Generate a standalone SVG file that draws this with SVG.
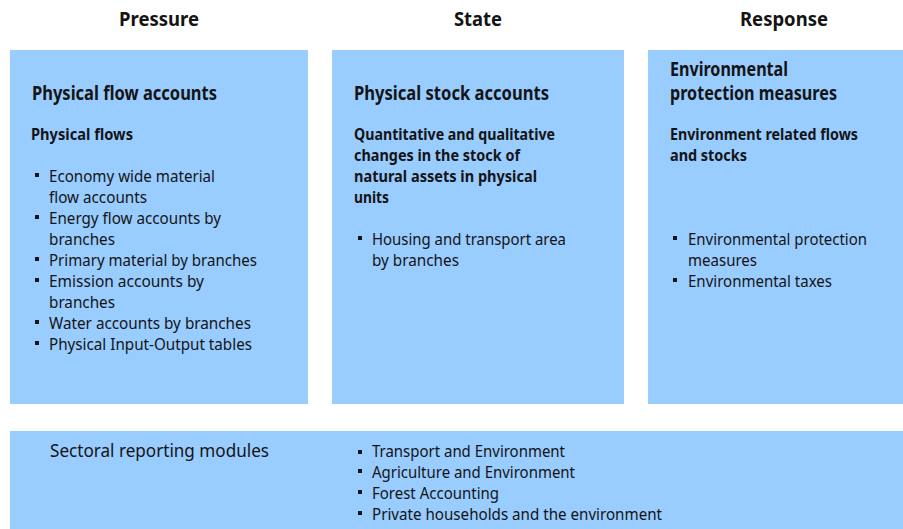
<svg xmlns="http://www.w3.org/2000/svg" width="903" height="529" viewBox="0 0 903 529">
<style>
.box{fill:#99CCFF;}
text{font-family:"Noto Sans","Open Sans","DejaVu Sans",sans-serif;fill:#141414;}
.hdr{font-size:20px;font-weight:bold;text-anchor:middle;}
.ttl{font-size:19px;font-weight:bold;}
.sub{font-size:16.5px;font-weight:bold;}
.bul{font-size:16px;}
.sec{font-size:18px;}
.sq{fill:#141414;}
</style>
<rect width="903" height="529" fill="#ffffff"/>
<g id="headers">
<text class="hdr" x="159" y="26" textLength="80" lengthAdjust="spacingAndGlyphs">Pressure</text>
<text class="hdr" x="478" y="26" textLength="48" lengthAdjust="spacingAndGlyphs">State</text>
<text class="hdr" x="784" y="26" textLength="88" lengthAdjust="spacingAndGlyphs">Response</text>
</g>
<g id="pressure">
<rect class="box" x="10" y="50" width="298" height="354"/>
<text class="ttl" x="32" y="100" textLength="185" lengthAdjust="spacingAndGlyphs">Physical flow accounts</text>
<text class="sub" x="31" y="140" textLength="102" lengthAdjust="spacingAndGlyphs">Physical flows</text>
<rect class="sq" x="35" y="173" width="4" height="4"/>
<text class="bul" x="49" y="182" textLength="166" lengthAdjust="spacingAndGlyphs">Economy wide material</text>
<text class="bul" x="49" y="203" textLength="98" lengthAdjust="spacingAndGlyphs">flow accounts</text>
<rect class="sq" x="35" y="215" width="4" height="4"/>
<text class="bul" x="49" y="224" textLength="172" lengthAdjust="spacingAndGlyphs">Energy flow accounts by</text>
<text class="bul" x="49" y="245" textLength="66" lengthAdjust="spacingAndGlyphs">branches</text>
<rect class="sq" x="35" y="257" width="4" height="4"/>
<text class="bul" x="49" y="266" textLength="208" lengthAdjust="spacingAndGlyphs">Primary material by branches</text>
<rect class="sq" x="35" y="278" width="4" height="4"/>
<text class="bul" x="49" y="287" textLength="155" lengthAdjust="spacingAndGlyphs">Emission accounts by</text>
<text class="bul" x="49" y="308" textLength="66" lengthAdjust="spacingAndGlyphs">branches</text>
<rect class="sq" x="35" y="320" width="4" height="4"/>
<text class="bul" x="49" y="329" textLength="202" lengthAdjust="spacingAndGlyphs">Water accounts by branches</text>
<rect class="sq" x="35" y="341" width="4" height="4"/>
<text class="bul" x="49" y="350" textLength="203" lengthAdjust="spacingAndGlyphs">Physical Input-Output tables</text>
</g>
<g id="state">
<rect class="box" x="332" y="50" width="292" height="354"/>
<text class="ttl" x="354" y="100" textLength="195" lengthAdjust="spacingAndGlyphs">Physical stock accounts</text>
<text class="sub" x="354" y="140" textLength="201" lengthAdjust="spacingAndGlyphs">Quantitative and qualitative</text>
<text class="sub" x="354" y="161" textLength="166" lengthAdjust="spacingAndGlyphs">changes in the stock of</text>
<text class="sub" x="354" y="182" textLength="183" lengthAdjust="spacingAndGlyphs">natural assets in physical</text>
<text class="sub" x="354" y="203" textLength="35" lengthAdjust="spacingAndGlyphs">units</text>
<rect class="sq" x="358" y="236" width="4" height="4"/>
<text class="bul" x="372" y="245" textLength="194" lengthAdjust="spacingAndGlyphs">Housing and transport area</text>
<text class="bul" x="372" y="266" textLength="87" lengthAdjust="spacingAndGlyphs">by branches</text>
</g>
<g id="response">
<rect class="box" x="648" y="50" width="255" height="354"/>
<text class="ttl" x="670" y="76" textLength="118" lengthAdjust="spacingAndGlyphs">Environmental</text>
<text class="ttl" x="670" y="100" textLength="167" lengthAdjust="spacingAndGlyphs">protection measures</text>
<text class="sub" x="670" y="140" textLength="188" lengthAdjust="spacingAndGlyphs">Environment related flows</text>
<text class="sub" x="670" y="161" textLength="77" lengthAdjust="spacingAndGlyphs">and stocks</text>
<rect class="sq" x="673" y="236" width="4" height="4"/>
<text class="bul" x="688" y="245" textLength="179" lengthAdjust="spacingAndGlyphs">Environmental protection</text>
<text class="bul" x="688" y="266" textLength="69" lengthAdjust="spacingAndGlyphs">measures</text>
<rect class="sq" x="673" y="278" width="4" height="4"/>
<text class="bul" x="688" y="287" textLength="144" lengthAdjust="spacingAndGlyphs">Environmental taxes</text>
</g>
<g id="sectoral">
<rect class="box" x="10" y="431" width="893" height="98"/>
<text class="sec" x="50" y="457" textLength="219" lengthAdjust="spacingAndGlyphs">Sectoral reporting modules</text>
<rect class="sq" x="358" y="450" width="4" height="4"/>
<text class="bul" x="372" y="457" textLength="193" lengthAdjust="spacingAndGlyphs">Transport and Environment</text>
<rect class="sq" x="358" y="469" width="4" height="4"/>
<text class="bul" x="372" y="478" textLength="203" lengthAdjust="spacingAndGlyphs">Agriculture and Environment</text>
<rect class="sq" x="358" y="490" width="4" height="4"/>
<text class="bul" x="372" y="499" textLength="127" lengthAdjust="spacingAndGlyphs">Forest Accounting</text>
<rect class="sq" x="358" y="511" width="4" height="4"/>
<text class="bul" x="372" y="520" textLength="290" lengthAdjust="spacingAndGlyphs">Private households and the environment</text>
</g>
<g id="connectors"></g>
</svg>
